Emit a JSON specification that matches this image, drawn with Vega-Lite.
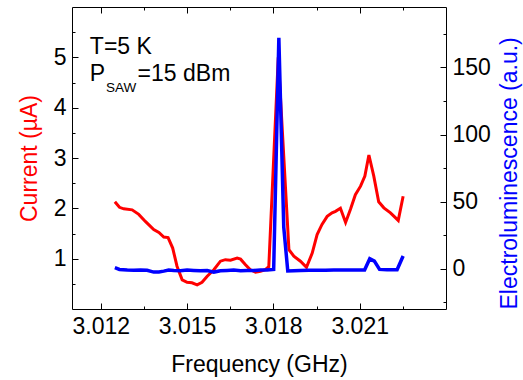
{
  "$schema": "https://vega.github.io/schema/vega-lite/v6.json",
  "width": 374,
  "height": 302,
  "autosize": {"type": "none"},
  "padding": {"left": 72, "top": 7, "right": 77, "bottom": 71},
  "config": {
    "view": {"stroke": null},
    "font": "Liberation Sans",
    "axis": {
      "grid": false,
      "labelFont": "Liberation Sans",
      "titleFont": "Liberation Sans",
      "labelFontSize": 23,
      "titleFontSize": 23,
      "titleFontWeight": "normal",
      "labelColor": "#000000",
      "titleColor": "#000000",
      "domainColor": "#000000",
      "tickColor": "#000000",
      "domainWidth": 1,
      "tickWidth": 1,
      "tickSize": -6,
      "labelOverlap": false,
      "labelFlush": false
    },
    "text": {"font": "Liberation Sans", "fontSize": 23, "color": "#000000", "align": "left", "baseline": "alphabetic"}
  },
  "datasets": {
    "current": [
      {"f": 3.01249, "I": 2.13}, {"f": 3.01265, "I": 2.02}, {"f": 3.01280, "I": 1.99}, {"f": 3.01309, "I": 1.97},
      {"f": 3.01332, "I": 1.88}, {"f": 3.01355, "I": 1.74}, {"f": 3.01384, "I": 1.58}, {"f": 3.01402, "I": 1.52},
      {"f": 3.01419, "I": 1.43}, {"f": 3.01434, "I": 1.42}, {"f": 3.01450, "I": 1.21}, {"f": 3.01465, "I": 0.85},
      {"f": 3.01483, "I": 0.58}, {"f": 3.01500, "I": 0.53}, {"f": 3.01517, "I": 0.52}, {"f": 3.01535, "I": 0.48},
      {"f": 3.01552, "I": 0.53}, {"f": 3.01570, "I": 0.65}, {"f": 3.01593, "I": 0.78}, {"f": 3.01616, "I": 0.95},
      {"f": 3.01633, "I": 0.98}, {"f": 3.01651, "I": 0.97}, {"f": 3.01674, "I": 1.01}, {"f": 3.01686, "I": 0.99},
      {"f": 3.01703, "I": 0.88}, {"f": 3.01720, "I": 0.78}, {"f": 3.01738, "I": 0.73}, {"f": 3.01755, "I": 0.75},
      {"f": 3.01772, "I": 0.78}, {"f": 3.01784, "I": 0.84}, {"f": 3.01817, "I": 5.0}, {"f": 3.01854, "I": 1.18},
      {"f": 3.01871, "I": 1.05}, {"f": 3.01894, "I": 0.95}, {"f": 3.01915, "I": 0.83}, {"f": 3.01935, "I": 1.11},
      {"f": 3.01952, "I": 1.48}, {"f": 3.01969, "I": 1.68}, {"f": 3.01987, "I": 1.84}, {"f": 3.02004, "I": 1.91},
      {"f": 3.02016, "I": 1.94}, {"f": 3.02033, "I": 2.0}, {"f": 3.02051, "I": 1.72}, {"f": 3.02068, "I": 1.98},
      {"f": 3.02085, "I": 2.27}, {"f": 3.02103, "I": 2.44}, {"f": 3.02118, "I": 2.64}, {"f": 3.02132, "I": 3.06},
      {"f": 3.02149, "I": 2.64}, {"f": 3.02166, "I": 2.13}, {"f": 3.02184, "I": 2.01}, {"f": 3.02207, "I": 1.91},
      {"f": 3.02234, "I": 1.76}, {"f": 3.02251, "I": 2.24}
    ],
    "el": [
      {"f": 3.01249, "EL": 0.8}, {"f": 3.01265, "EL": -0.5}, {"f": 3.01292, "EL": -1.0}, {"f": 3.01315, "EL": -1.2},
      {"f": 3.01338, "EL": -1.0}, {"f": 3.01361, "EL": -1.2}, {"f": 3.01384, "EL": -2.5}, {"f": 3.01402, "EL": -2.4},
      {"f": 3.01419, "EL": -1.8}, {"f": 3.01436, "EL": -1.0}, {"f": 3.01454, "EL": -1.3}, {"f": 3.01477, "EL": -1.5},
      {"f": 3.01500, "EL": -1.0}, {"f": 3.01523, "EL": -1.3}, {"f": 3.01546, "EL": -1.5}, {"f": 3.01570, "EL": -1.3},
      {"f": 3.01593, "EL": -2.5}, {"f": 3.01616, "EL": -1.5}, {"f": 3.01639, "EL": -1.3}, {"f": 3.01662, "EL": -1.0},
      {"f": 3.01686, "EL": -1.5}, {"f": 3.01709, "EL": -1.3}, {"f": 3.01732, "EL": -1.3}, {"f": 3.01755, "EL": -1.0},
      {"f": 3.01778, "EL": -1.0}, {"f": 3.01801, "EL": -0.5}, {"f": 3.01819, "EL": 172}, {"f": 3.01836, "EL": 31},
      {"f": 3.01850, "EL": -1.7}, {"f": 3.01871, "EL": -1.5}, {"f": 3.01894, "EL": -1.4}, {"f": 3.01923, "EL": -1.2},
      {"f": 3.01952, "EL": -1.2}, {"f": 3.01981, "EL": -1.1}, {"f": 3.02010, "EL": -1.0}, {"f": 3.02039, "EL": -1.0},
      {"f": 3.02068, "EL": -1.0}, {"f": 3.02097, "EL": -1.0}, {"f": 3.02117, "EL": -0.9}, {"f": 3.02135, "EL": 7.5},
      {"f": 3.02151, "EL": 5.7}, {"f": 3.02169, "EL": -0.5}, {"f": 3.02195, "EL": -0.8}, {"f": 3.02230, "EL": -0.7},
      {"f": 3.02251, "EL": 9.5}
    ]
  },
  "layer": [
    {
      "data": {"name": "current"},
      "mark": {"type": "line", "color": "#ff0000", "strokeWidth": 3},
      "encoding": {
        "x": {
          "field": "f", "type": "quantitative",
          "scale": {"domain": [3.011, 3.024], "nice": false, "zero": false},
          "axis": {
            "orient": "bottom",
            "title": "Frequency (GHz)",
            "values": [3.012, 3.0135, 3.015, 3.0165, 3.018, 3.0195, 3.021, 3.0225],
            "format": ".3f",
            "labelOverlap": false,
            "labelExpr": "abs(datum.value*1000 - round(datum.value*1000)) < 0.01 ? format(datum.value, '.3f') : ''",
            "tickDash": {"condition": {"test": "abs(datum.value*1000 - round(datum.value*1000)) < 0.01", "value": [6, 0]}, "value": [3, 20]},
            "labelPadding": 12,
            "titlePadding": 15
          }
        },
        "y": {
          "field": "I", "type": "quantitative",
          "scale": {"domain": [0, 6], "nice": false, "zero": false},
          "axis": {
            "orient": "left",
            "title": "Current (µA)",
            "titleColor": "#ff0000",
            "values": [1, 2, 3, 4, 5],
            "format": "d",
            "labelOverlap": false,
            "labelPadding": 12,
            "titlePadding": 12
          }
        }
      }
    },
    {
      "data": {"name": "el"},
      "mark": {"type": "line", "color": "#0000ff", "strokeWidth": 3.5},
      "encoding": {
        "x": {
          "field": "f", "type": "quantitative",
          "scale": {"domain": [3.011, 3.024], "nice": false, "zero": false},
          "axis": {
            "orient": "top",
            "title": null,
            "labels": false,
            "values": [3.012, 3.0135, 3.015, 3.0165, 3.018, 3.0195, 3.021, 3.0225],
            "tickDash": {"condition": {"test": "abs(datum.value*1000 - round(datum.value*1000)) < 0.01", "value": [6, 0]}, "value": [3, 20]}
          }
        },
        "y": {
          "field": "EL", "type": "quantitative",
          "scale": {"domain": [-30, 195], "nice": false, "zero": false},
          "axis": {
            "orient": "right",
            "title": "Electroluminescence (a.u.)",
            "titleColor": "#0000ff",
            "titleAngle": -90,
            "titleBaseline": "top",
            "titleAnchor": "start",
            "values": [-25, 0, 25, 50, 75, 100, 125, 150, 175],
            "format": "d",
            "labelOverlap": false,
            "labelExpr": "abs(datum.value % 50) < 0.01 ? format(datum.value, 'd') : ''",
            "tickDash": {"condition": {"test": "abs(datum.value % 50) < 0.01", "value": [6, 0]}, "value": [3, 20]},
            "labelPadding": 12,
            "titlePadding": 8
          }
        }
      }
    },
    {
      "data": {"values": [{}]},
      "mark": {"type": "text"},
      "encoding": {
        "x": {"datum": 3.01162, "type": "quantitative", "axis": null},
        "y": {
          "datum": 5.07, "type": "quantitative",
          "scale": {"domain": [0, 6], "nice": false, "zero": false},
          "axis": {"orient": "left", "values": [0.5, 1.5, 2.5, 3.5, 4.5, 5.5], "labels": false, "domain": false, "title": null, "tickSize": -3}
        },
        "text": {"value": "T=5 K"}
      }
    },
    {
      "data": {"values": [{}]},
      "mark": {"type": "text"},
      "encoding": {
        "x": {"datum": 3.01162, "type": "quantitative", "axis": null},
        "y": {"datum": 4.53, "type": "quantitative", "scale": {"domain": [0, 6], "nice": false, "zero": false}, "axis": null},
        "text": {"value": "P"}
      }
    },
    {
      "data": {"values": [{}]},
      "mark": {"type": "text", "fontSize": 13.5},
      "encoding": {
        "x": {"datum": 3.01218, "type": "quantitative", "axis": null},
        "y": {"datum": 4.32, "type": "quantitative", "scale": {"domain": [0, 6], "nice": false, "zero": false}, "axis": null},
        "text": {"value": "SAW"}
      }
    },
    {
      "data": {"values": [{}]},
      "mark": {"type": "text"},
      "encoding": {
        "x": {"datum": 3.01328, "type": "quantitative", "axis": null},
        "y": {"datum": 4.53, "type": "quantitative", "scale": {"domain": [0, 6], "nice": false, "zero": false}, "axis": null},
        "text": {"value": "=15 dBm"}
      }
    }
  ],
  "resolve": {
    "scale": {"y": "independent"},
    "axis": {"x": "independent", "y": "independent"}
  }
}
